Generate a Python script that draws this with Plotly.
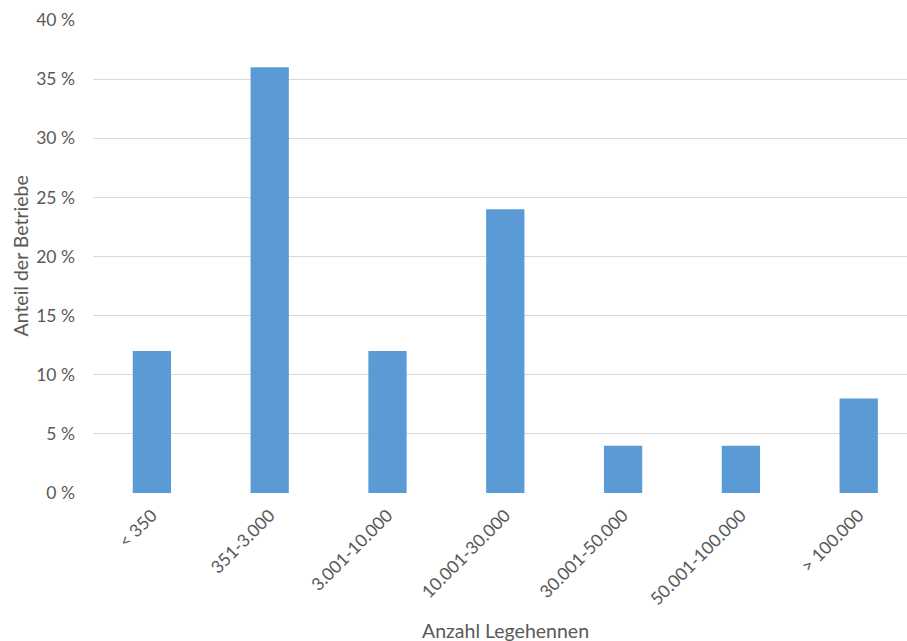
import plotly.graph_objects as go

categories = ["< 350", "351-3.000", "3.001-10.000", "10.001-30.000",
              "30.001-50.000", "50.001-100.000", "> 100.000"]
values = [12, 36, 12, 24, 4, 4, 8]
y_tick_vals = [0, 5, 10, 15, 20, 25, 30, 35, 40]
y_tick_text = ["0 %", "5 %", "10 %", "15 %", "20 %", "25 %", "30 %", "35 %", "40 %"]

FONT = "Lato"
TXT = "#595959"

fig = go.Figure(go.Bar(
    x=list(range(len(categories))), y=values,
    marker=dict(color="#5B9BD5", line=dict(width=0)),
    width=0.325,
))

fig.update_layout(
    width=907, height=641,
    margin=dict(l=93, r=0, t=20, b=148),
    paper_bgcolor="white", plot_bgcolor="white",
    font=dict(family=FONT, size=17, color=TXT),
    showlegend=False,
    xaxis=dict(
        range=[-0.5, 6.41],
        tickmode="array",
        tickvals=list(range(len(categories))),
        ticktext=categories,
        tickangle=-45,
        showgrid=False, zeroline=False,
        showline=False, ticks="",
        ticklabelstandoff=8,
        tickfont=dict(family=FONT, size=17.5, color=TXT),
    ),
    yaxis=dict(
        range=[0, 40],
        tickmode="array",
        tickvals=y_tick_vals,
        ticktext=y_tick_text,
        showgrid=True, gridcolor="#D9D9D9", gridwidth=1,
        zeroline=False, showline=False, ticks="",
        ticklabelstandoff=17,
        tickfont=dict(family=FONT, size=17.5, color=TXT),
    ),
)

plot_w = 907 - 93
plot_h = 641 - 20 - 148
fig.add_annotation(text="Anzahl Legehennen",
                   x=(505 - 93) / plot_w, y=(641 - 148 - 630) / plot_h,
                   xref="paper", yref="paper", showarrow=False,
                   xanchor="center", yanchor="middle",
                   font=dict(family=FONT, size=19.5, color=TXT))
fig.add_annotation(text="Anteil der Betriebe", textangle=-90,
                   x=(20 - 93) / plot_w, y=0.5, xref="paper", yref="paper",
                   showarrow=False, xanchor="center", yanchor="middle",
                   font=dict(family=FONT, size=19.5, color=TXT))

fig.write_html("out.html")
